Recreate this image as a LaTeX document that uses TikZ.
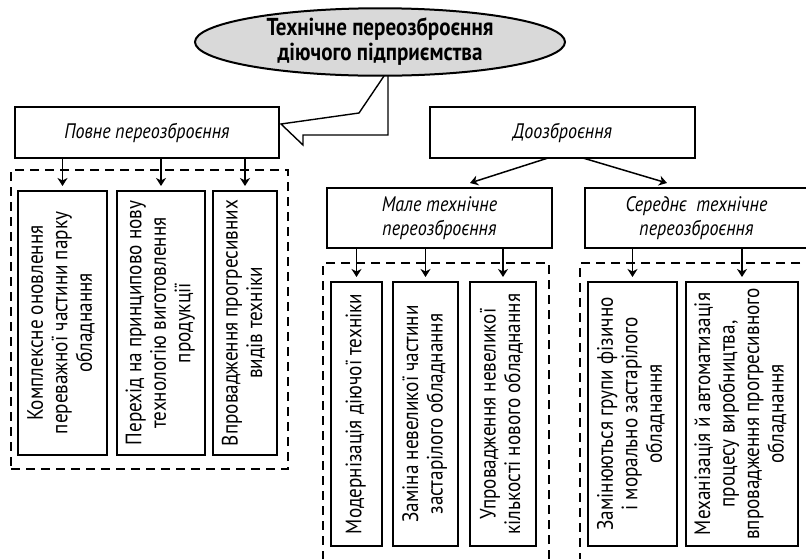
\documentclass[tikz,border=0pt]{standalone}
\usepackage{fontspec}
\setmainfont{PT Sans}[FakeStretch=0.86]
\usepackage{graphicx}
\usetikzlibrary{shapes.geometric,arrows.meta,calc}

% vertical (bottom-to-top) multi-line label
\newcommand\vtext[1]{\rotatebox{90}{\begin{tabular}{@{}c@{}}#1\end{tabular}}}

\begin{document}
\begin{tikzpicture}[x=1pt,y=-1pt,
  every node/.style={inner sep=0pt, outer sep=0pt},
  headbox/.style={draw, line width=2.2pt, fill=white, align=center,
    font=\fontsize{21}{24}\selectfont\itshape},
  itembox/.style={draw, line width=2.2pt, fill=white, minimum height=264pt,
    font=\fontsize{22.3}{24.5}\selectfont},
  groupbox/.style={draw, line width=1.7pt, dash pattern=on 9pt off 6pt},
  arr/.style={line width=1.5pt, -{Stealth[length=8pt,width=10pt,inset=2.5pt]},
    shorten >=5pt},
  callout/.style={draw, line width=1.4pt, fill=white, line join=miter},
]
\useasboundingbox (0,0) rectangle (806,558);

% speech-bubble tail from the title towards the first branch
\draw[callout] (384,76) -- (359,113) -- (281,124) -- (303,145) -- (303,135)
  -- (388,135) -- (388,76);

% title
\node[ellipse, draw, line width=2pt, fill=gray!30, minimum width=370pt,
  minimum height=67pt, align=center,
  font=\fontsize{24.5}{25}\selectfont\bfseries] (title) at (380,42)
  {Технічне переозброєння\\діючого підприємства};

% dashed groups
\node[groupbox, minimum width=277pt, minimum height=299pt] (g1) at (149.5,319.5) {};
\node[groupbox, minimum width=226pt, minimum height=310pt] (g2) at (436,418) {};
\node[groupbox, minimum width=240pt, minimum height=310pt] (g3) at (700,418) {};

% branch headers
\node[headbox, minimum width=264pt, minimum height=51pt] (full) at (147,132.5)
  {Повне переозброєння};
\node[headbox, minimum width=265pt, minimum height=51pt] (add) at (562.5,132.5)
  {Доозброєння};
\node[headbox, minimum width=225pt, minimum height=60pt] (small) at (439.5,218)
  {Мале технічне\\переозброєння};
\node[headbox, minimum width=223pt, minimum height=60pt] (mid) at (696.5,218)
  {Середнє\ \ технічне\\переозброєння};

% full re-equipment measures
\node[itembox, minimum width=89pt] (k1) at (62.5,323)
  {\vtext{Комплексне оновлення\\переважної частини парку\\обладнання}};
\node[itembox, minimum width=88pt] (k2) at (161,323)
  {\vtext{Перехід на принципово нову\\технологію виготовлення\\продукції}};
\node[itembox, minimum width=64pt] (k3) at (245,323)
  {\vtext{Впровадження прогресивних\\видів техніки}};

% small re-equipment measures
\node[itembox, minimum width=51pt] (m1) at (356.5,414)
  {\vtext{Модернізація діючої техніки}};
\node[itembox, minimum width=65pt] (m2) at (425.5,414)
  {\vtext{Заміна невеликої частини\\застарілого обладнання}};
\node[itembox, minimum width=66pt] (m3) at (503,414)
  {\vtext{Упровадження невеликої\\кількості нового обладнання}};

% medium re-equipment measures
\node[itembox, minimum width=89pt] (r1) at (632.5,414)
  {\vtext{Замінюються групи фізично\\і морально застарілого\\обладнання}};
\node[itembox, minimum width=112pt] (r2) at (742,414)
  {\vtext{Механізація й автоматизація\\процесу виробництва,\\впровадження прогресивного\\обладнання}};

% connectors
\foreach \b in {k1,k2,k3}
  \draw[arr] (full.south -| \b.north) -- (\b.north);
\foreach \b in {m1,m2,m3}
  \draw[arr] (small.south -| \b.north) -- (\b.north);
\foreach \b in {r1,r2}
  \draw[arr] (mid.south -| \b.north) -- (\b.north);
\draw[line width=1.5pt, -{Stealth[length=8pt,width=10pt,inset=2.5pt]}]
  ($(add.south)+(-14.5,0)$) -- ($(small.north)+(30.5,-5)$);
\draw[line width=1.5pt, -{Stealth[length=8pt,width=10pt,inset=2.5pt]}]
  ($(add.south)+(20.5,0)$) -- ($(mid.north)+(-29.5,-5)$);
\end{tikzpicture}
\end{document}
